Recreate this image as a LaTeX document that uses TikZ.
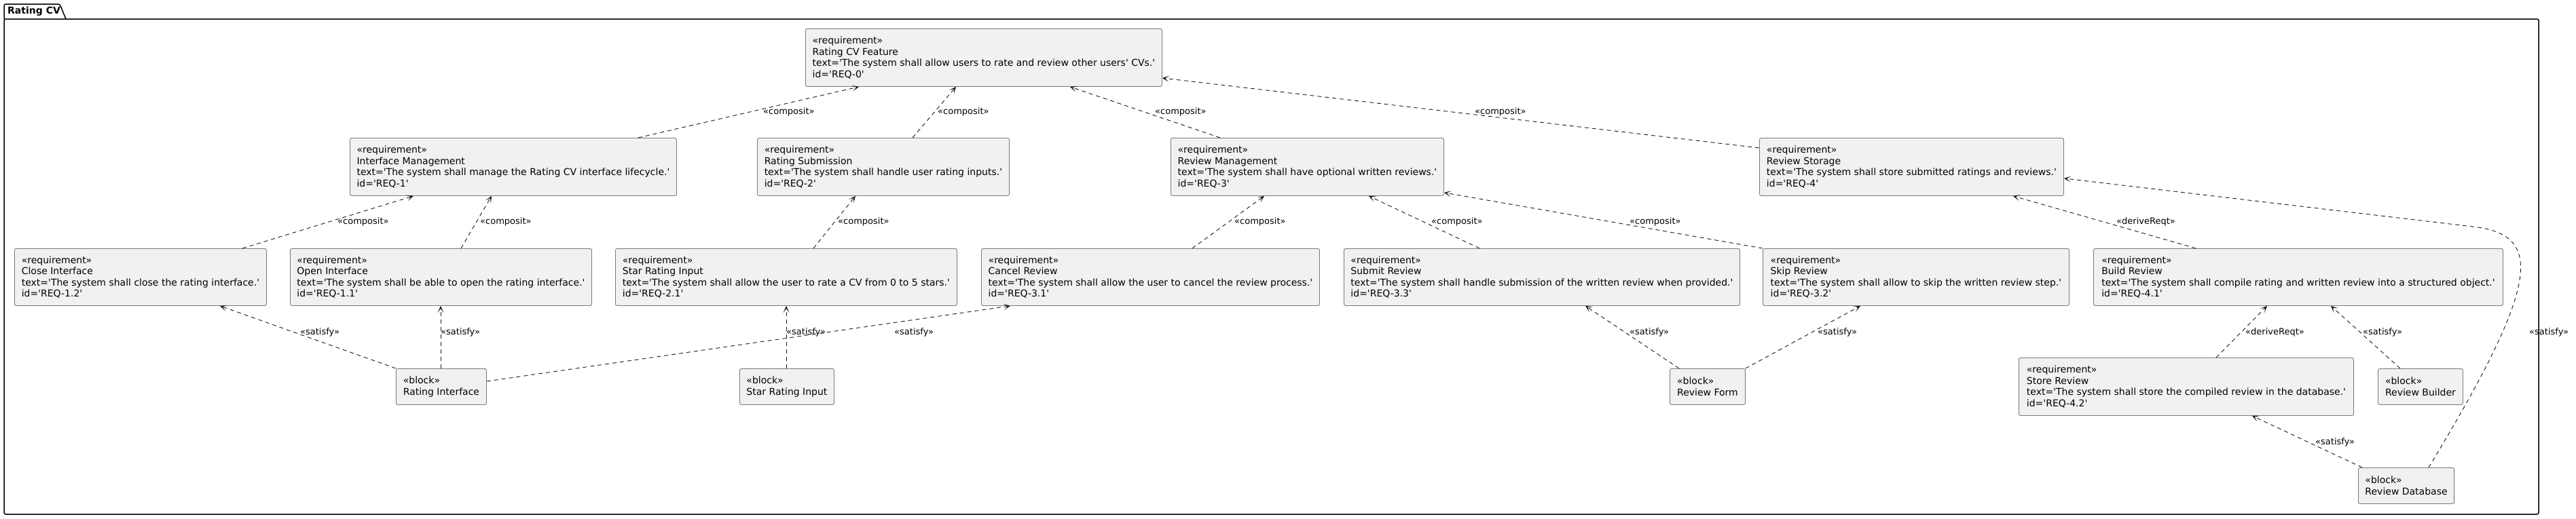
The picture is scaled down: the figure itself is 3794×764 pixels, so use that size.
\documentclass[tikz,border=0pt]{standalone}
\usepackage{fontspec}
\newfontfamily\dvs{DejaVu Sans}
\usetikzlibrary{arrows.meta,calc}
\definecolor{boxfill}{HTML}{F1F1F1}
\definecolor{boxline}{HTML}{7A7A7A}
\definecolor{lnk}{HTML}{181818}
\tikzset{
  req/.style={draw=boxline, fill=boxfill, rounded corners=2.5pt, line width=0.9pt,
    anchor=north west, align=left, inner xsep=10pt, inner ysep=0pt,
    font=\dvs\fontsize{14}{16.5}\selectfont},
  lbl/.style={anchor=west, inner sep=0pt, font=\dvs\fontsize{13}{15}\selectfont},
  dep/.style={draw=lnk, line width=0.9pt, dash pattern=on 6pt off 5pt,
    -{Stealth[length=10pt,width=9pt,inset=6pt]}},
  pkg/.style={draw=black, line width=1.5pt, rounded corners=2.5pt}
}
\begin{document}
\begin{tikzpicture}[x=1pt,y=-1pt]
\useasboundingbox (0,0) rectangle (3794,764);
% package frame
\draw[pkg] (6,28) -- (3739,28) -- (3739,758) -- (6,758) -- cycle;
\draw[pkg] (6,28) -- (6,6) -- (88,6) -- (97,28);
\node[anchor=west, inner sep=0pt, font=\dvs\bfseries\fontsize{14}{16}\selectfont] (title) at (11,17) {Rating CV};

% requirements
\node[req, minimum width=525pt, minimum height=85pt] (r0) at (1186,42)
 {«requirement»\\Rating CV Feature\\text='The system shall allow users to rate and review other users' CVs.'\\id='REQ-0'};
\node[req, minimum width=481pt, minimum height=85pt] (r1) at (515,203)
 {«requirement»\\Interface Management\\text='The system shall manage the Rating CV interface lifecycle.'\\id='REQ-1'};
\node[req, minimum width=371pt, minimum height=85pt] (r2) at (1115,203)
 {«requirement»\\Rating Submission\\text='The system shall handle user rating inputs.'\\id='REQ-2'};
\node[req, minimum width=402pt, minimum height=85pt] (r3) at (1724,203)
 {«requirement»\\Review Management\\text='The system shall have optional written reviews.'\\id='REQ-3'};
\node[req, minimum width=448pt, minimum height=85pt] (r4) at (2591,203)
 {«requirement»\\Review Storage\\text='The system shall store submitted ratings and reviews.'\\id='REQ-4'};

\node[req, minimum width=371pt, minimum height=84pt] (r12) at (21,366)
 {«requirement»\\Close Interface\\text='The system shall close the rating interface.'\\id='REQ-1.2'};
\node[req, minimum width=444pt, minimum height=84pt] (r11) at (427,366)
 {«requirement»\\Open Interface\\text='The system shall be able to open the rating interface.'\\id='REQ-1.1'};
\node[req, minimum width=503pt, minimum height=84pt] (r21) at (906,366)
 {«requirement»\\Star Rating Input\\text='The system shall allow the user to rate a CV from 0 to 5 stars.'\\id='REQ-2.1'};
\node[req, minimum width=498pt, minimum height=84pt] (r31) at (1445,366)
 {«requirement»\\Cancel Review\\text='The system shall allow the user to cancel the review process.'\\id='REQ-3.1'};
\node[req, minimum width=582pt, minimum height=84pt] (r33) at (1979,366)
 {«requirement»\\Submit Review\\text='The system shall handle submission of the written review when provided.'\\id='REQ-3.3'};
\node[req, minimum width=451pt, minimum height=84pt] (r32) at (2596,366)
 {«requirement»\\Skip Review\\text='The system shall allow to skip the written review step.'\\id='REQ-3.2'};
\node[req, minimum width=603pt, minimum height=84pt] (r41) at (3083,366)
 {«requirement»\\Build Review\\text='The system shall compile rating and written review into a structured object.'\\id='REQ-4.1'};
\node[req, minimum width=493pt, minimum height=85pt] (r42) at (2973,527)
 {«requirement»\\Store Review\\text='The system shall store the compiled review in the database.'\\id='REQ-4.2'};

% blocks
\node[req, minimum width=133pt, minimum height=53pt] (b1) at (583,543)
 {«block»\\Rating Interface};
\node[req, minimum width=139pt, minimum height=53pt] (b2) at (1089,543)
 {«block»\\Star Rating Input};
\node[req, minimum width=111pt, minimum height=53pt] (b3) at (2459,543)
 {«block»\\Review Form};
\node[req, minimum width=125pt, minimum height=53pt] (b4) at (3502,543)
 {«block»\\Review Builder};
\node[req, minimum width=141pt, minimum height=53pt] (b5) at (3473,689)
 {«block»\\Review Database};

% composit links
\draw[dep] ($(r1.north west)+(425,0)$) -- ($(r0.south west)+(79,0)$);
\draw[dep] ($(r2.north west)+(229,0)$) -- ($(r0.south west)+(222,0)$);
\draw[dep] ($(r3.north west)+(73,0)$) -- ($(r0.south west)+(390,0)$);
\draw[dep] ($(r4.north west)+(0,15)$) -- ($(r0.north east)+(0,73)$);
\draw[dep] ($(r12.north west)+(336,0)$) -- ($(r1.south west)+(94,0)$);
\draw[dep] ($(r11.north west)+(252,0)$) -- ($(r1.south west)+(209,0)$);
\draw[dep] ($(r21.north west)+(292,0)$) -- ($(r2.south west)+(145,0)$);
\draw[dep] ($(r31.north west)+(311,0)$) -- ($(r3.south west)+(138,0)$);
\draw[dep] ($(r33.north west)+(200,0)$) -- ($(r3.south west)+(292,0)$);
\draw[dep] (r32.north west) -- ($(r3.south east)+(0,-5)$);
% deriveReqt
\draw[dep] ($(r41.north west)+(151,0)$) -- ($(r4.south west)+(374,0)$);
\draw[dep] ($(r42.north west)+(291,0)$) -- ($(r41.south west)+(256,0)$);
% satisfy
\draw[dep] (b1.north west) -- ($(r12.south west)+(303,0)$);
\draw[dep] ($(b1.north west)+(66,0)$) -- ($(r11.south west)+(222,0)$);
\draw[dep] ($(b1.north east)+(0,19)$) -- ($(r31.south west)+(43,0)$);
\draw[dep] ($(b2.north west)+(69,0)$) -- ($(r21.south west)+(252,0)$);
\draw[dep] ($(b3.north west)+(14,0)$) -- ($(r33.south west)+(356,0)$);
\draw[dep] (b3.north east) -- ($(r32.south west)+(144,0)$);
\draw[dep] ($(b4.north west)+(33,0)$) -- ($(r41.south west)+(350,0)$);
\draw[dep] ($(b5.north west)+(6,0)$) -- ($(r42.south west)+(344,0)$);
\coordinate (bend) at (3650,335);
\draw[dep] ($(b5.north west)+(104,0)$) .. controls (3740,420) and (3745,350) .. (bend) -- ($(r4.south east)+(0,-26)$);

% labels
\node[lbl] (l1) at (1124,165) {«composit»};
\node[lbl] (l2) at (1381,165) {«composit»};
\node[lbl] (l3) at (1701,165) {«composit»};
\node[lbl] (l4) at (2172,165) {«composit»};
\node[lbl] (l5) at (497,327) {«composit»};
\node[lbl] (l6) at (707,327) {«composit»};
\node[lbl] (l7) at (1234,327) {«composit»};
\node[lbl] (l8) at (1818,327) {«composit»};
\node[lbl] (l9) at (2108,327) {«composit»};
\node[lbl] (l10) at (2400,327) {«composit»};
\node[lbl] (l11) at (3117,327) {«deriveReqt»};
\node[lbl] (l12) at (442,490) {«satisfy»};
\node[lbl] (l13) at (649,490) {«satisfy»};
\node[lbl] (l14) at (1317,490) {«satisfy»};
\node[lbl] (l15) at (1158,490) {«satisfy»};
\node[lbl] (l16) at (2400,490) {«satisfy»};
\node[lbl] (l17) at (2677,490) {«satisfy»};
\node[lbl] (l18) at (3307,490) {«deriveReqt»};
\node[lbl] (l19) at (3480,490) {«satisfy»};
\node[lbl] (l20) at (3410,652) {«satisfy»};
\node[lbl] (l21) at (3725,490) {«satisfy»};
\end{tikzpicture}
\end{document}
